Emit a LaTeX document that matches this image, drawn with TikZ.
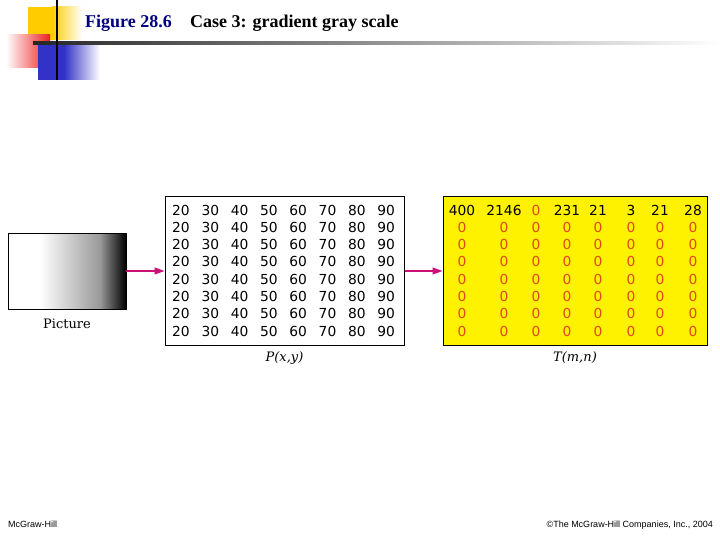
\documentclass[tikz,border=0pt]{standalone}
\usepackage{fontspec}
\setmainfont{Liberation Serif}
\setsansfont{Liberation Sans}
\newfontfamily\numfont{DejaVu Sans}
\newfontfamily\labelfont{DejaVu Serif}
\usetikzlibrary{positioning,arrows.meta}

\definecolor{titleblue}{RGB}{0,0,128}
\definecolor{arrowpink}{RGB}{204,16,119}
\definecolor{zerored}{RGB}{226,72,24}
\definecolor{sqyellow}{RGB}{255,204,0}
\definecolor{sqred}{RGB}{236,32,32}
\definecolor{sqblue}{RGB}{50,50,200}

\tikzset{
  titletext/.style={font=\bfseries\fontsize{18}{20}\selectfont, inner sep=0pt},
  numtext/.style={font=\numfont\fontsize{13.8}{14}\selectfont, inner sep=0pt},
  labeltext/.style={font=\labelfont\fontsize{13}{14}\selectfont, inner sep=0pt},
  foottext/.style={font=\sffamily\fontsize{9}{10}\selectfont, inner sep=0pt},
  matbox/.style={draw, line width=1pt, minimum height=148, inner sep=0pt},
  pinkarrow/.style={arrowpink, line width=1.2pt, -{Triangle[length=10pt,width=7pt]}}
}

\begin{document}
\begin{tikzpicture}[x=1pt,y=-1pt]
\useasboundingbox (0,0) rectangle (720,540);

% corner squares and rules
\fill[sqyellow] (28,7) rectangle (52,40);
\shade[left color=sqyellow, right color=white] (52,7) rectangle (82,40);
\shade[left color=white, right color=sqred] (6,35) rectangle (50,68);
\fill[sqblue] (38,45) rectangle (64,80);
\shade[left color=sqblue, right color=white] (64,45) rectangle (100,80);
\shade[left color=black!85, right color=white] (33,42) rectangle (720,45);
\draw[line width=2.5pt] (57,0) -- (57,80);

\node[titletext, text=titleblue, anchor=base west] (fig) at (85,28) {Figure 28.6};
\node[titletext, anchor=base west] (case) at (190,28) {Case 3: gradient gray scale};

% the picture
\fill[white] (8,233) rectangle (40,309);
\shade[left color=white, right color=gray!80] (40,233) rectangle (100,309);
\shade[left color=gray!80, right color=black] (100,233) rectangle (126,309);
\node[draw, line width=0.8pt, minimum width=118, minimum height=76, inner sep=0pt] (pic) at (67,271) {};
\node[labeltext, below=9pt of pic] (piclabel) {Picture};

% P(x,y)
\node[matbox, minimum width=239] (pmat) at (284.5,271) {};
\foreach \r in {0,...,7}
  \foreach \v [count=\c] in {20,30,...,90}
    \node[numtext] (p-\r-\c) at ({151.7+29.3*\c},{210+17.3*\r}) {\v};
\node[labeltext, below=6pt of pmat] (plabel) {\itshape P(x,y)};

% T(m,n)
\node[matbox, fill=yellow, minimum width=264] (tmat) at (575,271) {};
\foreach \x/\v/\col [count=\c] in {462/400/black,504/2146/black,536/0/zerored,567/231/black,
    598/21/black,631/3/black,660/21/black,693/28/black}
  \node[numtext, text=\col] (t-0-\c) at (\x,210) {\v};
\foreach \r in {1,...,7}
  \foreach \x [count=\c] in {462,504,536,567,598,631,660,693}
    \node[numtext, text=zerored] (t-\r-\c) at (\x,{210+17.3*\r}) {0};
\node[labeltext, below=6pt of tmat] (tlabel) {\itshape T(m,n)};

\draw[pinkarrow] (pic) -- (pmat);
\draw[pinkarrow] (pmat) -- (tmat);

\node[foottext, anchor=base west] (pub) at (8,527) {McGraw-Hill};
\node[foottext, anchor=base east] (copy) at (713,527) {\textcopyright The McGraw-Hill Companies, Inc., 2004};

\end{tikzpicture}
\end{document}
